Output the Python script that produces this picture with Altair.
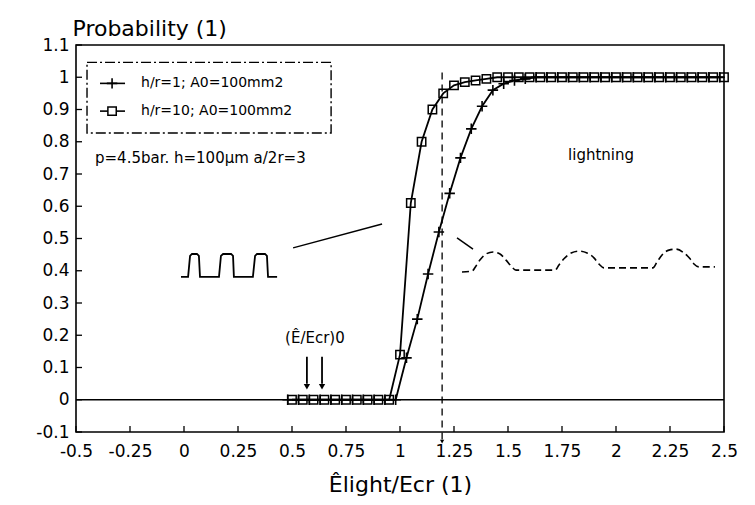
import altair as alt
import pandas as pd

# ---------------- data ----------------
# h/r=10 series (square markers)
sq_x = [0.50, 0.55, 0.60, 0.65, 0.70, 0.75, 0.80, 0.85, 0.90, 0.95,
        1.00, 1.05, 1.10, 1.15, 1.20, 1.25, 1.30, 1.35, 1.40,
        1.45, 1.50, 1.55, 1.60, 1.65, 1.70, 1.75, 1.80, 1.85, 1.90, 1.95,
        2.00, 2.05, 2.10, 2.15, 2.20, 2.25, 2.30, 2.35, 2.40, 2.45, 2.50]
sq_y = [0, 0, 0, 0, 0, 0, 0, 0, 0, 0,
        0.14, 0.61, 0.80, 0.90, 0.95, 0.975, 0.985, 0.99, 0.995,
        1, 1, 1, 1, 1, 1, 1, 1, 1, 1, 1,
        1, 1, 1, 1, 1, 1, 1, 1, 1, 1, 1]

# h/r=1 series (cross markers)
cr_x = [0.48, 0.53, 0.58, 0.63, 0.68, 0.73, 0.78, 0.83, 0.88, 0.93, 0.98,
        1.03, 1.08, 1.13, 1.18, 1.23, 1.28, 1.33, 1.38, 1.43, 1.48, 1.53, 1.58,
        1.63, 1.68, 1.73, 1.78, 1.83, 1.88, 1.93, 1.98, 2.03, 2.08, 2.13,
        2.18, 2.23, 2.28, 2.33, 2.38, 2.43, 2.48]
cr_y = [0, 0, 0, 0, 0, 0, 0, 0, 0, 0, 0,
        0.13, 0.25, 0.39, 0.52, 0.64, 0.75, 0.84, 0.91, 0.96, 0.98, 0.99, 0.995,
        1, 1, 1, 1, 1, 1, 1, 1, 1, 1, 1,
        1, 1, 1, 1, 1, 1, 1]

x_ticks = [-0.5, -0.25, 0, 0.25, 0.5, 0.75, 1, 1.25, 1.5, 1.75, 2, 2.25, 2.5]
y_ticks = [-0.1, 0, 0.1, 0.2, 0.3, 0.4, 0.5, 0.6, 0.7, 0.8, 0.9, 1, 1.1]

series_labels = ["h/r=1; A0=100mm2", "h/r=10; A0=100mm2"]

# square-pulse sketch
pulse_x = [-0.014, 0.019, 0.028, 0.037, 0.060, 0.069, 0.074, 0.162, 0.171, 0.181,
           0.218, 0.227, 0.231, 0.319, 0.329, 0.338, 0.375, 0.384, 0.389, 0.431]
pulse_y = [0.381, 0.381, 0.446, 0.452, 0.452, 0.446, 0.381, 0.381, 0.446, 0.452,
           0.452, 0.446, 0.381, 0.381, 0.446, 0.452, 0.452, 0.446, 0.381, 0.381]

# lightning-waveform sketch
light_x = [1.287, 1.333, 1.352, 1.370, 1.398, 1.431, 1.463, 1.491, 1.514, 1.537,
           1.718, 1.736, 1.759, 1.792, 1.829, 1.866, 1.898, 1.921, 1.944,
           2.171, 2.190, 2.213, 2.245, 2.278, 2.315, 2.343, 2.361, 2.384, 2.458]
light_y = [0.396, 0.399, 0.415, 0.433, 0.452, 0.458, 0.452, 0.433, 0.415, 0.402,
           0.402, 0.418, 0.437, 0.455, 0.461, 0.455, 0.440, 0.421, 0.409,
           0.409, 0.427, 0.449, 0.464, 0.467, 0.455, 0.437, 0.421, 0.412, 0.412]

# ---------------- chart ----------------
FONT = "DejaVu Sans"
W, H = 648, 387
sx = alt.Scale(domain=[-0.5, 2.5], nice=False, zero=False)
sy = alt.Scale(domain=[-0.1, 1.1], nice=False, zero=False)

x_axis = alt.Axis(values=x_ticks, labelExpr="'' + datum.value", domain=False, ticks=False,
                  grid=False, labelFont=FONT, labelFontSize=17, labelColor="black",
                  labelPadding=11, labelFlush=False, labelOverlap=False,
                  title="Êlight/Ecr (1)", titleFont=FONT,
                  titleFontSize=22, titleFontWeight="normal", titleColor="black",
                  titleY=52, titleBaseline="middle")
y_axis = alt.Axis(values=y_ticks, labelExpr="'' + datum.value", domain=False, ticks=False,
                  grid=False, labelFont=FONT, labelFontSize=17, labelColor="black",
                  labelPadding=7, labelFlush=False, labelOverlap=False,
                  title="Probability (1)", titleFont=FONT,
                  titleFontSize=22, titleFontWeight="normal", titleColor="black",
                  titleAngle=0, titleAlign="left", titleBaseline="middle",
                  titleX=-4, titleY=-17)


def X():
    return alt.X("x:Q", scale=sx, axis=x_axis, title="Êlight/Ecr (1)")


def Y():
    return alt.Y("y:Q", scale=sy, axis=y_axis, title="Probability (1)")


sq_df = pd.DataFrame({"x": sq_x, "y": sq_y, "s": series_labels[1]})
cr_df = pd.DataFrame({"x": cr_x, "y": cr_y, "s": series_labels[0]})
both = pd.concat([cr_df, sq_df], ignore_index=True)

lines = alt.Chart(both).mark_line(color="black", strokeWidth=1.8).encode(
    x=X(), y=Y(), detail="s:N")

sq_pts = alt.Chart(sq_df).mark_point(shape="square", filled=False, color="black",
                                     size=70, strokeWidth=1.5, opacity=1).encode(x=X(), y=Y())
cross_path = "M-1,0H1M0,-1V1"
cr_pts = alt.Chart(cr_df).mark_point(shape=cross_path, filled=False, color="black",
                                     size=110, strokeWidth=1.6, opacity=1).encode(x=X(), y=Y())

one = pd.DataFrame({"x": [0], "y": [0]})
zero_line = alt.Chart(one).mark_rule(color="black", strokeWidth=1.3).encode(y=Y())

# inward ticks
xt = alt.Chart(pd.DataFrame({"x": x_ticks})).mark_rule(color="black", strokeWidth=1.3).encode(
    x=X(), y=alt.value(H), y2=alt.value(H - 6))
yt = alt.Chart(pd.DataFrame({"y": y_ticks})).mark_rule(color="black", strokeWidth=1.3).encode(
    y=Y(), x=alt.value(0), x2=alt.value(6))

# vertical dashed marker line near 1.2
vline = alt.Chart(pd.DataFrame({"x": [1.195], "y": [1.015], "y2": [-0.125]})).mark_rule(
    color="black", strokeWidth=1.3, strokeDash=[7, 5]).encode(x=X(), y=Y(), y2="y2:Q")
vhead = alt.Chart(pd.DataFrame({"x": [1.195], "y": [-0.13]})).mark_point(
    shape="triangle-down", filled=True, color="black", size=18, opacity=1).encode(x=X(), y=Y())

# legend (manual)
leg_box = alt.Chart(pd.DataFrame({"x": [-0.449], "x2": [0.681], "y": [1.046], "y2": [0.827]})).mark_rect(
    fill=None, stroke="black", strokeWidth=1.4, strokeDash=[10, 3, 2, 3]).encode(
    x=X(), x2="x2:Q", y=Y(), y2="y2:Q")
leg_lines = alt.Chart(pd.DataFrame({"x": [-0.389, -0.389], "x2": [-0.273, -0.273],
                                    "y": [0.981, 0.895]})).mark_rule(
    color="black", strokeWidth=1.6).encode(x=X(), x2="x2:Q", y=Y())
leg_cross = alt.Chart(pd.DataFrame({"x": [-0.333], "y": [0.981]})).mark_point(
    shape=cross_path, filled=False, color="black", size=110, strokeWidth=1.6, opacity=1).encode(x=X(), y=Y())
leg_sq = alt.Chart(pd.DataFrame({"x": [-0.333], "y": [0.895]})).mark_point(
    shape="square", filled=True, fill="white", stroke="black", size=70, strokeWidth=1.5,
    opacity=1).encode(x=X(), y=Y())
leg_text = alt.Chart(pd.DataFrame({"x": [-0.199, -0.199], "y": [0.981, 0.895],
                                   "t": series_labels})).mark_text(
    align="left", baseline="middle", font=FONT, fontSize=14, color="black").encode(
    x=X(), y=Y(), text="t:N")

# other annotations
notes = pd.DataFrame({
    "x": [-0.412, 1.778, 0.468],
    "y": [0.749, 0.758, 0.192],
    "t": ["p=4.5bar. h=100µm a/2r=3", "lightning", "(Ê/Ecr)0"],
})
note_text = alt.Chart(notes).mark_text(align="left", baseline="middle", font=FONT,
                                       fontSize=15, color="black").encode(
    x=X(), y=Y(), text="t:N")

arrows = alt.Chart(pd.DataFrame({"x": [0.569, 0.639], "y": [0.133, 0.133],
                                 "y2": [0.05, 0.05]})).mark_rule(
    color="black", strokeWidth=1.8).encode(x=X(), y=Y(), y2="y2:Q")
arrow_heads = alt.Chart(pd.DataFrame({"x": [0.569, 0.639], "y": [0.04, 0.04]})).mark_point(
    shape="triangle-down", filled=True, color="black", size=40, opacity=1).encode(x=X(), y=Y())

pulse = alt.Chart(pd.DataFrame({"x": pulse_x, "y": pulse_y, "o": list(range(len(pulse_x)))})).mark_line(
    color="black", strokeWidth=1.8).encode(x=X(), y=Y(), order="o:Q")
pointer = alt.Chart(pd.DataFrame({"x": [0.505], "y": [0.471], "x2": [0.917], "y2": [0.545]})).mark_rule(
    color="black", strokeWidth=1.5).encode(x=X(), y=Y(), x2="x2:Q", y2="y2:Q")
light = alt.Chart(pd.DataFrame({"x": light_x, "y": light_y, "o": list(range(len(light_x)))})).mark_line(
    color="black", strokeWidth=1.6, strokeDash=[7, 4], interpolate="monotone").encode(
    x=X(), y=Y(), order="o:Q")
light_ptr = alt.Chart(pd.DataFrame({"x": [1.264], "y": [0.502], "x2": [1.338], "y2": [0.467]})).mark_rule(
    color="black", strokeWidth=1.5).encode(x=X(), y=Y(), x2="x2:Q", y2="y2:Q")

chart = alt.layer(
    lines, zero_line, xt, yt, vline, vhead, sq_pts, cr_pts,
    leg_box, leg_lines, leg_cross, leg_sq, leg_text, note_text,
    arrows, arrow_heads, pulse, pointer, light, light_ptr,
).properties(
    width=W, height=H,
    autosize=alt.AutoSizeParams(type="none"),
    padding={"left": 76, "top": 45, "right": 31, "bottom": 73},
    background="white",
).configure_view(stroke="black", strokeWidth=1.6)

chart.save("out.html", embed_options={"renderer": "svg", "actions": False})
